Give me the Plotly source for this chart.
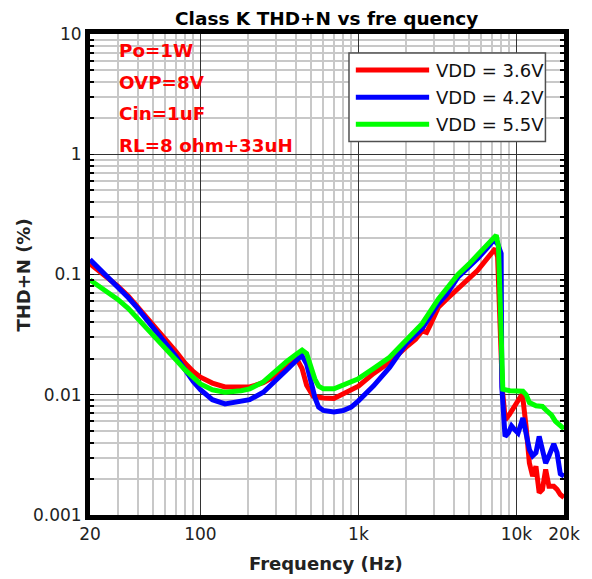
import plotly.graph_objects as go

# ---------------- data ----------------
series_names = ["VDD = 3.6V", "VDD = 4.2V", "VDD = 5.5V"]
series_colors = ["#FF0000", "#0000FF", "#00FF00"]

red_f = [20, 25, 30, 35, 40, 50, 60, 70, 80, 90, 100, 119, 143, 181, 205, 250, 286, 350, 408, 440, 470, 517, 560, 600, 700, 851, 1000, 1243, 1575, 1995, 2300, 2530, 2700, 2900, 3207, 3600, 4266, 5000, 5666, 6500, 7345, 7600, 8150, 8500, 9000, 10000, 10900, 11500, 12080, 12660, 13290, 13930, 14600, 15310, 16060, 17230, 18070, 18950, 20000]
red_v = [0.123, 0.098, 0.080, 0.066, 0.054, 0.0389, 0.029, 0.0229, 0.0183, 0.0156, 0.014, 0.0125, 0.0116, 0.0117, 0.0116, 0.0126, 0.0139, 0.0168, 0.0198, 0.0165, 0.012, 0.0097, 0.0095, 0.0094, 0.0093, 0.0105, 0.0118, 0.015, 0.0186, 0.0248, 0.029, 0.034, 0.033, 0.040, 0.0534, 0.062, 0.076, 0.09, 0.108, 0.135, 0.164, 0.14, 0.011, 0.0062, 0.0068, 0.0085, 0.0102, 0.0055, 0.0027, 0.0021, 0.00254, 0.00153, 0.00163, 0.00239, 0.00173, 0.00173, 0.00163, 0.00148, 0.0014]

blue_f = [20, 25, 30, 35, 40, 50, 60, 70, 80, 90, 100, 119, 143, 181, 205, 250, 286, 350, 438, 470, 500, 530, 560, 600, 700, 800, 900, 1000, 1243, 1575, 1995, 2530, 3207, 3600, 4266, 5000, 5666, 6500, 7170, 7600, 8000, 8080, 8470, 8880, 9310, 9770, 10240, 10990, 11530, 12080, 12660, 13290, 13930, 14600, 15310, 16060, 17230, 18070, 18950, 20000]
blue_v = [0.133, 0.1, 0.079, 0.064, 0.0525, 0.0369, 0.0269, 0.0208, 0.0161, 0.0129, 0.011, 0.0091, 0.0084, 0.0089, 0.0091, 0.0105, 0.0123, 0.016, 0.0213, 0.018, 0.013, 0.0095, 0.0079, 0.0074, 0.0072, 0.0074, 0.0079, 0.0089, 0.0118, 0.0169, 0.0264, 0.0355, 0.0574, 0.068, 0.095, 0.115, 0.135, 0.165, 0.193, 0.18, 0.15, 0.0116, 0.0045, 0.0048, 0.0055, 0.0051, 0.0048, 0.0064, 0.0048, 0.0035, 0.0031, 0.0033, 0.0045, 0.0035, 0.0027, 0.0031, 0.0039, 0.0033, 0.0022, 0.0021]

green_f = [20, 25, 30, 35, 40, 50, 60, 70, 80, 90, 100, 119, 143, 181, 205, 250, 286, 350, 400, 440, 470, 500, 530, 560, 600, 700, 851, 1000, 1243, 1575, 1995, 2530, 3207, 3600, 4266, 5000, 5666, 6500, 7450, 7700, 8200, 9100, 10000, 10990, 11530, 12080, 13290, 14600, 15310, 16640, 17650, 18950, 20000]
green_v = [0.09, 0.074, 0.062, 0.052, 0.0433, 0.0315, 0.0241, 0.0195, 0.0161, 0.0138, 0.0123, 0.011, 0.0105, 0.0108, 0.0112, 0.0128, 0.015, 0.0188, 0.0215, 0.0235, 0.022, 0.017, 0.0135, 0.0118, 0.0112, 0.0112, 0.0123, 0.0136, 0.0165, 0.0205, 0.0282, 0.039, 0.0627, 0.075, 0.1, 0.122, 0.144, 0.172, 0.212, 0.17, 0.0111, 0.0108, 0.0108, 0.0107, 0.01, 0.0086, 0.0081, 0.008, 0.0075, 0.0068, 0.006, 0.0055, 0.0052]

x_tickvals = [20, 100, 1000, 10000, 20000]
x_ticktext = ["20", "100", "1k", "10k", "20k"]
y_tickvals = [0.001, 0.01, 0.1, 1, 10]
y_ticktext = ["0.001", "0.01", "0.1", "1", "10"]

notes = ["Po=1W", "OVP=8V", "Cin=1uF", "RL=8 ohm+33uH"]

title_text = "Class K THD+N vs fre quency"
x_title = "Frequency (Hz)"
y_title = "THD+N (%)"

# ---------------- layout helpers ----------------
PAGE_OFF = 8                      # default page body margin
FIG_W, FIG_H = 592 - PAGE_OFF, 579 - PAGE_OFF
PL, PR, PT, PB = 90, 575, 34, 515  # plot area in page pixels
ML, MT = PL - PAGE_OFF, PT - PAGE_OFF
MR, MB = 592 - PR, 579 - PB
PW = PR - PL
PH = PB - PT


def px(xp):
    return (xp - PL) / PW


def py(yp):
    return 1 - (yp - PT) / PH


x_minor = [m * 10 ** d for d in range(1, 5) for m in range(2, 10) if 20 < m * 10 ** d < 20000]
y_minor = [m * 10.0 ** d for d in range(-3, 1) for m in range(2, 10)]

FONT = "DejaVu Sans"

fig = go.Figure()
for f, v, name, col in zip([red_f, blue_f, green_f], [red_v, blue_v, green_v], series_names, series_colors):
    fig.add_trace(go.Scatter(x=f, y=v, mode="lines", name=name,
                             line=dict(color=col, width=5), showlegend=False))

fig.update_layout(
    width=FIG_W, height=FIG_H,
    margin=dict(l=ML, r=MR, t=MT, b=MB),
    paper_bgcolor="white", plot_bgcolor="white",
    font=dict(family=FONT, color="#222222"),
)

fig.update_xaxes(
    type="log", range=[1.30103, 4.30103],
    tickmode="array", tickvals=x_tickvals, ticktext=x_ticktext,
    tickfont=dict(size=17, color="#222222"),
    showgrid=True, gridcolor="#333333", gridwidth=1,
    showline=True, linecolor="black", linewidth=5, mirror=True,
    ticks="", zeroline=False,
    minor=dict(tickmode="array", tickvals=x_minor, showgrid=True,
               gridcolor="#C8C8C8", gridwidth=1.5, ticks=""),
)
fig.update_yaxes(
    type="log", range=[-3, 1],
    tickmode="array", tickvals=y_tickvals, ticktext=y_ticktext,
    tickfont=dict(size=17, color="#222222"),
    showgrid=True, gridcolor="#333333", gridwidth=1,
    showline=True, linecolor="black", linewidth=5, mirror="ticks",
    ticks="inside", ticklen=4, tickcolor="black",
    zeroline=False,
    minor=dict(tickmode="array", tickvals=y_minor, showgrid=True,
               gridcolor="#C8C8C8", gridwidth=1.5, ticks="inside",
               ticklen=4, tickcolor="black", tickwidth=2),
)

annotations = []
# title
annotations.append(dict(text="<b>%s</b>" % title_text, xref="paper", yref="paper",
                        x=px(331.5), y=py(18), xanchor="center", yanchor="middle",
                        showarrow=False, font=dict(family=FONT, size=18.5, color="black")))
# axis titles
annotations.append(dict(text="<b>%s</b>" % x_title, xref="paper", yref="paper",
                        x=px(331.5), y=py(563), xanchor="center", yanchor="middle",
                        showarrow=False, font=dict(family=FONT, size=18, color="#222222")))
annotations.append(dict(text="<b>%s</b>" % y_title, xref="paper", yref="paper",
                        x=px(21), y=py(275), xanchor="center", yanchor="middle",
                        textangle=-90, showarrow=False,
                        font=dict(family=FONT, size=18, color="#222222")))
# red notes
for i, t in enumerate(notes):
    annotations.append(dict(text="<b>%s</b>" % t, xref="paper", yref="paper",
                            x=px(118), y=py(50.5 + 31.7 * i), xanchor="left", yanchor="middle",
                            showarrow=False, font=dict(family=FONT, size=18.3, color="#FF0000")))

# legend (box, sample lines, labels)
shapes = [dict(type="rect", xref="paper", yref="paper",
               x0=px(355), x1=px(556), y0=py(141.5), y1=py(53),
               line=dict(color="#505050", width=1.5), fillcolor="white", layer="above")]
leg_y = [70, 97.3, 124.3]
for name, col, ly in zip(series_names, series_colors, leg_y):
    shapes.append(dict(type="line", xref="paper", yref="paper",
                       x0=px(362), x1=px(437), y0=py(ly), y1=py(ly),
                       line=dict(color=col, width=5), layer="above"))
    annotations.append(dict(text=name, xref="paper", yref="paper",
                            x=px(442), y=py(ly), xanchor="left", yanchor="middle",
                            showarrow=False, font=dict(family=FONT, size=18, color="#111111")))

fig.update_layout(annotations=annotations, shapes=shapes)

fig.write_html("out.html")
